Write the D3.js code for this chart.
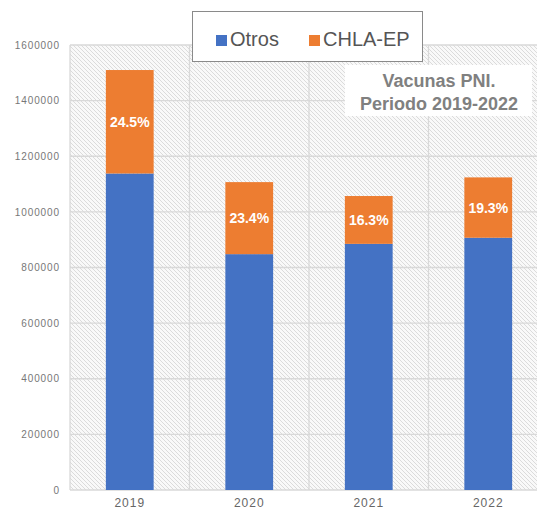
<!DOCTYPE html>
<html>
<head>
<meta charset="utf-8">
<script src="https://cdn.jsdelivr.net/npm/d3@7"></script>
<style>
  html, body { margin: 0; padding: 0; background: #fff; }
  svg { display: block; font-family: "Liberation Sans", Arial, sans-serif; }
</style>
</head>
<body>
<script>
// Datos
const years = ["2019", "2020", "2021", "2022"];
const otros = [1138000, 848000, 885000, 907000];
const chla = [372000, 259000, 172000, 217000];
const pctLabels = ["24.5%", "23.4%", "16.3%", "19.3%"];
const yTicks = [0, 200000, 400000, 600000, 800000, 1000000, 1200000, 1400000, 1600000];
const seriesNames = ["Otros", "CHLA-EP"];
const titleLines = ["Vacunas PNI.", "Periodo 2019-2022"];

const COLORS = {"Otros": "#4472c4", "CHLA-EP": "#ed7d31"};

const width = 537, height = 510;
const plot = {left: 70, right: 548, top: 45, bottom: 490};

const rows = years.map((y, i) => ({year: y, "Otros": otros[i], "CHLA-EP": chla[i], pct: pctLabels[i]}));

const svg = d3.select("body").append("svg")
  .attr("width", width).attr("height", height)
  .attr("viewBox", [0, 0, width, height]);

// Hatched background pattern
const defs = svg.append("defs");
const pat = defs.append("pattern")
  .attr("id", "hatch").attr("patternUnits", "userSpaceOnUse")
  .attr("width", 4).attr("height", 4);
pat.append("rect").attr("width", 4).attr("height", 4).attr("fill", "#f9f9f9");
pat.append("path").attr("d", "M0,0 L4,4 M-1,3 L1,5 M3,-1 L5,1")
  .attr("stroke", "#d8d8d8").attr("stroke-width", 0.9);

// Scales
const x = d3.scaleBand()
  .domain(years)
  .range([plot.left, plot.right])
  .paddingInner(0.6)
  .paddingOuter(0.3);

const y = d3.scaleLinear()
  .domain([0, 1600000])
  .range([plot.bottom, plot.top]);

svg.append("rect")
  .attr("x", plot.left).attr("y", plot.top)
  .attr("width", plot.right - plot.left).attr("height", plot.bottom - plot.top)
  .attr("fill", "url(#hatch)");

// Grid lines
svg.append("g").selectAll("line.h")
  .data(yTicks)
  .join("line")
  .attr("x1", plot.left).attr("x2", plot.right)
  .attr("y1", d => y(d)).attr("y2", d => y(d))
  .attr("stroke", "#d9d9d9").attr("stroke-width", 1.3);

const boundaries = [plot.left].concat(years.slice(1).map(d => x(d) - x.step() * x.paddingInner() / 2));
svg.append("g").selectAll("line.v")
  .data(boundaries)
  .join("line")
  .attr("x1", d => d).attr("x2", d => d)
  .attr("y1", plot.top).attr("y2", plot.bottom)
  .attr("stroke", "#d9d9d9").attr("stroke-width", 1.3);

// Y axis
const yAxis = svg.append("g")
  .attr("transform", `translate(${plot.left - 10},0)`)
  .call(d3.axisLeft(y).tickValues(yTicks).tickFormat(d3.format("d")).tickSize(0).tickPadding(0));
yAxis.select(".domain").remove();
yAxis.selectAll("text")
  .attr("fill", "#777")
  .style("font-size", "10px")
  .style("letter-spacing", "0.9px");

// X axis
const xAxis = svg.append("g")
  .attr("transform", `translate(0,${plot.bottom})`)
  .call(d3.axisBottom(x).tickSize(0).tickPadding(8));
xAxis.select(".domain").remove();
xAxis.selectAll("text")
  .attr("fill", "#666")
  .style("font-size", "12px")
  .style("letter-spacing", "1px");

// Stacked bars
const stacked = d3.stack().keys(seriesNames)(rows);
svg.append("g").selectAll("g")
  .data(stacked)
  .join("g")
  .attr("fill", d => COLORS[d.key])
  .selectAll("rect")
  .data(d => d)
  .join("rect")
  .attr("x", d => x(d.data.year))
  .attr("width", x.bandwidth())
  .attr("y", d => y(d[1]))
  .attr("height", d => y(d[0]) - y(d[1]));

// Percentage labels (centered in CHLA-EP segment)
const chlaLayer = stacked[1];
svg.append("g").selectAll("text")
  .data(chlaLayer)
  .join("text")
  .attr("x", d => x(d.data.year) + x.bandwidth() / 2)
  .attr("y", d => (y(d[0]) + y(d[1])) / 2)
  .attr("dy", "0.36em")
  .attr("text-anchor", "middle")
  .attr("fill", "#fff")
  .style("font-size", "14px")
  .style("font-weight", "bold")
  .text(d => d.data.pct);

// Legend
const legend = svg.append("g");
legend.append("rect")
  .attr("x", 192.5).attr("y", 11.5).attr("width", 230).attr("height", 50)
  .attr("fill", "#fff").attr("stroke", "#8a8a8a").attr("stroke-width", 1);
const legendPos = [216, 309];
seriesNames.forEach((s, i) => {
  legend.append("rect")
    .attr("x", legendPos[i]).attr("y", 35).attr("width", 11).attr("height", 11)
    .attr("fill", COLORS[s]);
  legend.append("text")
    .attr("x", legendPos[i] + 14).attr("y", 46)
    .attr("fill", "#555")
    .style("font-size", "20px")
    .text(s);
});

// Title box
svg.append("rect")
  .attr("x", 345).attr("y", 65).attr("width", 187).attr("height", 51)
  .attr("fill", "#fff");
svg.append("g").selectAll("text")
  .data(titleLines)
  .join("text")
  .attr("x", 439)
  .attr("y", (d, i) => 87 + i * 23)
  .attr("text-anchor", "middle")
  .attr("fill", "#808080")
  .style("font-size", "18px")
  .style("font-weight", "bold")
  .text(d => d);
</script>
</body>
</html>
